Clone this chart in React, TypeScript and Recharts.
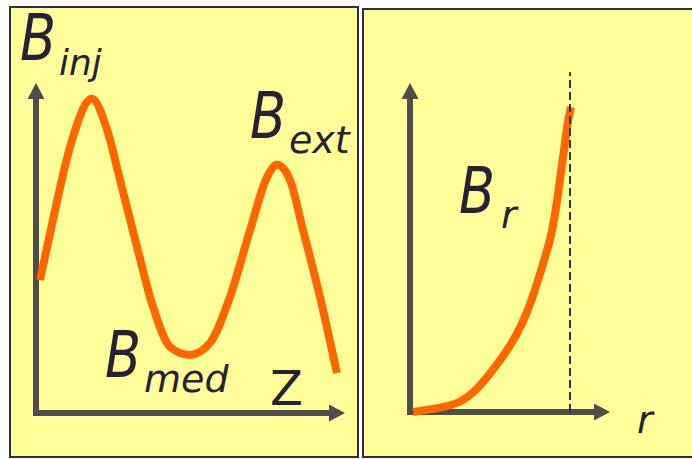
import React from 'react';
import { LineChart, Line, XAxis, YAxis, ReferenceLine, ReferenceDot } from 'recharts';

// left panel: field along the axis (Z)
const zPos = [1.3, 5.5, 11, 18.1, 23, 27.2, 32.7, 37.9, 43.4, 49.8, 56.3, 62.8, 69.3, 74.8, 78, 82.2, 86.4, 91.9, 97.4];
const bField = [40.3, 58.5, 80.6, 95.2, 85.8, 70.6, 50.3, 32.1, 20, 17.6, 21.2, 35.2, 55.5, 71.5, 75.2, 70.6, 55.5, 35.2, 12.1];

// right panel: radial field (r)
const rPos = [1.5, 15, 25, 33.5, 41.5, 50, 56.5, 61.5, 66.5, 71, 74, 77, 79, 80.5];
const bRadial = [0, 1.2, 2.7, 6.7, 12.8, 19.8, 27.1, 35, 45, 53.8, 66, 79.6, 88.8, 92.7];
const wallR = 80;

const subs = ['inj', 'ext', 'med', 'r'];
const axisNames = ['Z', 'r'];

const axialData = zPos.map((z, i) => ({ z, b: bField[i] }));
const radialData = rPos.map((r, i) => ({ r, b: bRadial[i] }));

const AXIS = '#4d4d4d';
const ORANGE = '#ff6600';
const INK = '#232333';
const YELLOW = '#ffff99';
const FONT = "'DejaVu Sans', sans-serif";

const arrowRight = (p: any) => (
  <polygon points={`${p.cx},${p.cy} ${p.cx - 16},${p.cy - 8.5} ${p.cx - 16},${p.cy + 8.5}`} fill={AXIS} />
);
const arrowUp = (p: any) => (
  <polygon points={`${p.cx},${p.cy} ${p.cx - 8.5},${p.cy + 16} ${p.cx + 8.5},${p.cy + 16}`} fill={AXIS} />
);

// "B" with an italic subscript, anchored at the baseline-left of the B
const fieldLabel = (sub: string, subSize = 38, gap = 36) => (p: any) => (
  <g>
    <text x={p.cx - 3} y={p.cy} fill={INK} fontFamily={FONT} fontSize={64} fontStyle="italic" textLength={36} lengthAdjust="spacingAndGlyphs">
      B
    </text>
    <text x={p.cx + gap} y={p.cy + 15} fill={INK} fontFamily={FONT} fontSize={subSize} fontStyle="italic">
      {sub}
    </text>
  </g>
);

const axisLabel = (name: string, size: number, italic: boolean) => (p: any) => (
  <text x={p.cx} y={p.cy} fill={INK} fontFamily={FONT} fontSize={size} fontStyle={italic ? 'italic' : 'normal'}>
    {name}
  </text>
);

const lineStyle = { stroke: AXIS, strokeWidth: 6, strokeLinecap: 'square' as const };

export default function App() {
  return (
    <div style={{ position: 'absolute', left: 0, top: 0, width: 692, height: 459, overflow: 'hidden', background: '#fff' }}>
      <div style={{ position: 'absolute', left: 9, top: 6, width: 350, height: 452, boxSizing: 'border-box', border: '2px solid #2e2e3c', background: YELLOW }} />
      <div style={{ position: 'absolute', left: 362, top: 8, width: 340, height: 450, boxSizing: 'border-box', border: '2px solid #2e2e3c', background: YELLOW }} />

      <div style={{ position: 'absolute', left: 0, top: 0 }}>
        <LineChart width={360} height={459} data={axialData} margin={{ top: 83, left: 36, right: 15, bottom: 46 }}>
          <XAxis type="number" dataKey="z" domain={[0, 100]} hide />
          <YAxis type="number" domain={[0, 100]} hide />
          <ReferenceLine segment={[{ x: 0, y: 0 }, { x: 95, y: 0 }]} ifOverflow="visible" {...lineStyle} />
          <ReferenceLine segment={[{ x: 0, y: 0 }, { x: 0, y: 96 }]} ifOverflow="visible" {...lineStyle} />
          <ReferenceDot x={100} y={0} ifOverflow="visible" shape={arrowRight} />
          <ReferenceDot x={0} y={100} ifOverflow="visible" shape={arrowUp} />
          <Line dataKey="b" type="monotone" stroke={ORANGE} strokeWidth={8} dot={false} activeDot={false} isAnimationActive={false} />
          <ReferenceDot x={-4.2} y={107} ifOverflow="visible" shape={fieldLabel(subs[0], 36)} />
          <ReferenceDot x={70.2} y={83.3} ifOverflow="visible" shape={fieldLabel(subs[1])} />
          <ReferenceDot x={23.3} y={10.9} ifOverflow="visible" shape={fieldLabel(subs[2])} />
          <ReferenceDot x={75.7} y={2.4} ifOverflow="visible" shape={axisLabel(axisNames[0], 48, false)} />
        </LineChart>
      </div>

      <div style={{ position: 'absolute', left: 360, top: 0 }}>
        <LineChart width={332} height={459} data={radialData} margin={{ top: 83, left: 50, right: 82, bottom: 47 }}>
          <XAxis type="number" dataKey="r" domain={[0, 100]} hide />
          <YAxis type="number" domain={[0, 100]} hide />
          <ReferenceLine segment={[{ x: 0, y: 0 }, { x: 93, y: 0 }]} ifOverflow="visible" {...lineStyle} />
          <ReferenceLine segment={[{ x: 0, y: 0 }, { x: 0, y: 96 }]} ifOverflow="visible" {...lineStyle} />
          <ReferenceDot x={100} y={0} ifOverflow="visible" shape={arrowRight} />
          <ReferenceDot x={0} y={100} ifOverflow="visible" shape={arrowUp} />
          <Line dataKey="b" type="basis" stroke={ORANGE} strokeWidth={8} dot={false} activeDot={false} isAnimationActive={false} />
          <ReferenceLine segment={[{ x: wallR, y: 0 }, { x: wallR, y: 103.3 }]} ifOverflow="visible" stroke="#333" strokeWidth={2} strokeDasharray="8 4" />
          <ReferenceDot x={26} y={60.5} ifOverflow="visible" shape={fieldLabel(subs[3], 38, 39)} />
          <ReferenceDot x={113.5} y={-6.4} ifOverflow="visible" shape={axisLabel(axisNames[1], 38, true)} />
        </LineChart>
      </div>
    </div>
  );
}
